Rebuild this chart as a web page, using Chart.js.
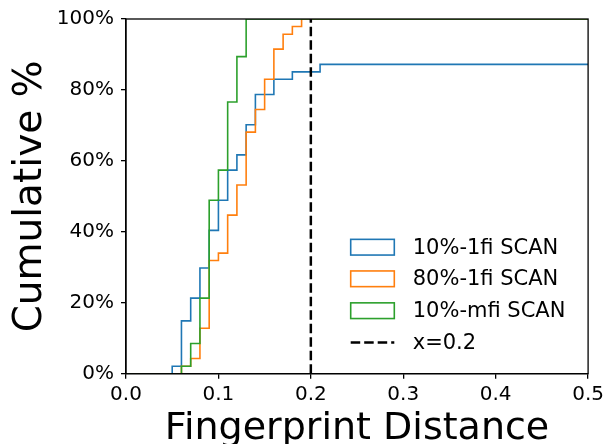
<!DOCTYPE html>
<html>
<head>
<meta charset="utf-8">
<script src="https://cdn.jsdelivr.net/npm/chart.js@4/dist/chart.umd.min.js"></script>
<style>
  html, body { margin: 0; padding: 0; background: #fff; }
  #wrap { width: 608px; height: 444px; }
</style>
</head>
<body>
<div id="wrap"><canvas id="c" width="608" height="444"></canvas></div>
<script>
// Cumulative distributions of fingerprint distance (bin edges where the curve steps, cumulative %)
const edges1fi10 = [0, 0.05, 0.06, 0.07, 0.08, 0.09, 0.10, 0.11, 0.12, 0.13, 0.14, 0.16, 0.18, 0.21, 0.5];
const cum1fi10   = [0, 2.1, 14.9, 21.3, 29.8, 40.4, 48.9, 57.4, 61.7, 70.2, 78.7, 83.0, 85.1, 87.2, 87.2];

const edges1fi80 = [0, 0.06, 0.07, 0.08, 0.09, 0.10, 0.11, 0.12, 0.13, 0.14, 0.15, 0.16, 0.17, 0.18, 0.19, 0.5];
const cum1fi80   = [0, 2.1, 4.3, 12.8, 31.9, 34.0, 44.7, 53.2, 68.1, 74.5, 83.0, 91.5, 95.7, 97.9, 100, 100];

const edgesMfi10 = [0, 0.06, 0.07, 0.08, 0.09, 0.10, 0.11, 0.12, 0.13, 0.5];
const cumMfi10   = [0, 2.1, 8.5, 21.3, 48.9, 57.4, 76.6, 89.4, 100, 100];

const seriesLabels = ['10%-1fi SCAN', '80%-1fi SCAN', '10%-mfi SCAN'];
const seriesColors = ['#1f77b4', '#ff7f0e', '#2ca02c'];

const thresholdX = 0.2;
const thresholdLabel = 'x=0.2';

const xTicks = [0, 0.1, 0.2, 0.3, 0.4, 0.5];
const yTicks = [0, 20, 40, 60, 80, 100];

const FONT = "'DejaVu Sans', sans-serif";

function toPoints(xs, ys) {
  return xs.map((x, i) => ({ x: x, y: ys[i] }));
}

function stepSet(label, color, xs, ys, order) {
  return {
    label: label,
    data: toPoints(xs, ys),
    borderColor: color,
    backgroundColor: color,
    borderWidth: 1.6,
    stepped: 'before',
    pointRadius: 0,
    fill: false,
    order: order
  };
}

const datasets = [
  stepSet(seriesLabels[0], seriesColors[0], edges1fi10, cum1fi10, 4),
  stepSet(seriesLabels[1], seriesColors[1], edges1fi80, cum1fi80, 3),
  stepSet(seriesLabels[2], seriesColors[2], edgesMfi10, cumMfi10, 2),
  {
    label: thresholdLabel,
    data: [{ x: thresholdX, y: yTicks[0] }, { x: thresholdX, y: yTicks[yTicks.length - 1] }],
    borderColor: '#000',
    backgroundColor: '#000',
    borderWidth: 2.5,
    borderDash: [9.5, 4],
    pointRadius: 0,
    fill: false,
    order: 1
  }
];

// Frame on all four sides, plus a legend in the lower right of the plot
const framePlugin = {
  id: 'frameAndLegend',
  afterDraw(chart) {
    const ctx = chart.ctx;
    const a = chart.chartArea;
    ctx.save();
    ctx.strokeStyle = '#000';
    ctx.lineWidth = 1.3;
    ctx.strokeRect(a.left, a.top, a.right - a.left, a.bottom - a.top);

    const boxX = 350.7, boxW = 43.6, boxH = 15.7;
    const textX = 412.7;
    const rowY = [247.2, 278.8, 310.7, 342.5];
    ctx.font = '21px ' + FONT;
    ctx.textBaseline = 'middle';
    ctx.textAlign = 'left';
    chart.data.datasets.forEach((ds, i) => {
      const cy = rowY[i];
      ctx.setLineDash([]);
      if (ds.borderDash) {
        ctx.strokeStyle = ds.borderColor;
        ctx.lineWidth = ds.borderWidth;
        ctx.setLineDash(ds.borderDash);
        ctx.beginPath();
        ctx.moveTo(boxX, cy);
        ctx.lineTo(boxX + boxW, cy);
        ctx.stroke();
        ctx.setLineDash([]);
      } else {
        ctx.strokeStyle = ds.borderColor;
        ctx.lineWidth = ds.borderWidth;
        ctx.strokeRect(boxX, cy - boxH / 2, boxW, boxH);
      }
      ctx.fillStyle = '#000';
      ctx.fillText(ds.label, textX, cy + 1);
    });
    ctx.restore();
  }
};

new Chart(document.getElementById('c'), {
  type: 'line',
  data: { datasets: datasets },
  options: {
    responsive: false,
    animation: false,
    events: [],
    layout: { padding: { left: 0, right: 19, top: 17, bottom: 0 } },
    plugins: {
      legend: { display: false },
      tooltip: { enabled: false }
    },
    scales: {
      x: {
        type: 'linear',
        min: xTicks[0],
        max: xTicks[xTicks.length - 1],
        afterBuildTicks(scale) { scale.ticks = xTicks.map(v => ({ value: v })); },
        afterFit(scale) { scale.height = 70.3; },
        ticks: {
          color: '#000',
          font: { family: FONT, size: 20 },
          padding: 4,
          maxRotation: 0,
          autoSkip: false,
          callback: v => Number(v).toFixed(1)
        },
        grid: { display: true, drawOnChartArea: false, drawTicks: true, tickLength: 5, color: '#000', lineWidth: 1.3 },
        border: { display: true, color: '#000', width: 1.3 },
        title: {
          display: true,
          text: 'Fingerprint Distance',
          color: '#000',
          font: { family: FONT, size: 38, lineHeight: 0.8 },
          padding: { top: 0, bottom: 0 }
        }
      },
      y: {
        type: 'linear',
        min: yTicks[0],
        max: yTicks[yTicks.length - 1],
        afterBuildTicks(scale) { scale.ticks = yTicks.map(v => ({ value: v })); },
        afterFit(scale) { scale.width = 126; },
        ticks: {
          color: '#000',
          font: { family: FONT, size: 20 },
          padding: 7,
          autoSkip: false,
          callback: v => v + '%'
        },
        grid: { display: true, drawOnChartArea: false, drawTicks: true, tickLength: 5, color: '#000', lineWidth: 1.3 },
        border: { display: true, color: '#000', width: 1.3 },
        title: {
          display: true,
          text: 'Cumulative %',
          color: '#000',
          font: { family: FONT, size: 39, lineHeight: 1.2 },
          padding: { top: 7, bottom: 0 }
        }
      }
    }
  },
  plugins: [framePlugin]
});
</script>
</body>
</html>
